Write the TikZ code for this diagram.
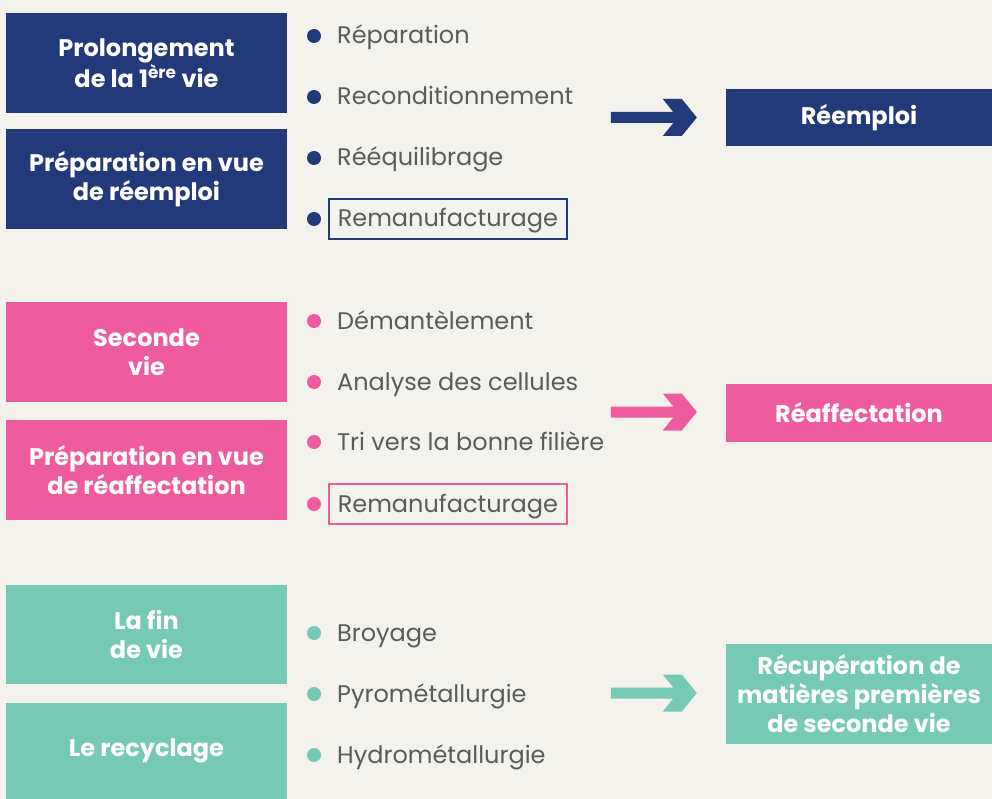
\documentclass[tikz,border=0pt]{standalone}
\usepackage{fontspec}
\setmainfont{Poppins}
\usetikzlibrary{calc}
\definecolor{navy}{HTML}{22397A}
\definecolor{rose}{HTML}{EE5C9F}
\definecolor{mint}{HTML}{76C9B5}
\definecolor{fond}{HTML}{F3F2EC}
\definecolor{texte}{HTML}{585C5C}
% fat arrow ending at a coordinate
\newcommand{\fatarrow}[2]{%
  \fill[#1] ($(#2)+(-86,-5.5)$) -- ($(#2)+(-23.5,-5.5)$) -- ($(#2)+(-34,-18.5)$)
    -- ($(#2)+(-15,-18.5)$) -- (#2) -- ($(#2)+(-15,18.5)$) -- ($(#2)+(-34,18.5)$)
    -- ($(#2)+(-23.5,5.5)$) -- ($(#2)+(-86,5.5)$) -- cycle;}

\begin{document}
\begin{tikzpicture}[x=1pt, y=-1pt,
            stage/.style={minimum width=281pt, inner sep=0pt, text=white, align=center, font=\fontsize{24}{29}\selectfont\bfseries},
            result/.style={minimum width=266pt, inner sep=0pt, text=white, align=center, font=\fontsize{24}{29}\selectfont\bfseries},
            item/.style={anchor=west, inner xsep=9pt, inner ysep=6pt, text height=22pt, text depth=6pt, text=texte, font=\fontsize{24}{28}\selectfont},
            dot/.style={circle, inner sep=0pt, minimum size=14pt},
            marked/.style={draw=#1, line width=1.6pt}
        ]
            % background
            \fill[fond] (0, 0) rectangle (992, 799);
            \useasboundingbox (0, 0) rectangle (992, 799);
            % stages
            \node[stage, fill=navy, minimum height=100pt] (prolong) at (146.5, 63) {Prolongement\\de la 1\textsuperscript{ère} vie};
            \node[stage, fill=navy, minimum height=100pt] (prepreemploi) at (146.5, 179) {Préparation en vue\\de réemploi};
            \node[stage, fill=rose, minimum height=100pt] (seconde) at (146.5, 352) {Seconde\\vie};
            \node[stage, fill=rose, minimum height=100pt] (prepreaff) at (146.5, 470) {Préparation en vue\\de réaffectation};
            \node[stage, fill=mint, minimum height=99pt] (finvie) at (146.5, 634.5) {La fin\\de vie};
            \node[stage, fill=mint, minimum height=96pt] (recyclage) at (146.5, 751) {Le recyclage};
            % reemploi list
            \node[dot, fill=navy] (n1) at (314, 36) {};
            \node[item] (reparation) at (328, 36) {Réparation};
            \node[dot, fill=navy] (n2) at (314, 97) {};
            \node[item] (recond) at (328, 97) {Reconditionnement};
            \node[dot, fill=navy] (n3) at (314, 158) {};
            \node[item] (reequil) at (328, 158) {Rééquilibrage};
            \node[dot, fill=navy] (n4) at (314, 219) {};
            \node[item, marked=navy] (reman1) at (328, 219) {Remanufacturage};
            % reaffectation list
            \node[dot, fill=rose] (p1) at (314, 321) {};
            \node[item] (demant) at (328, 321) {Démantèlement};
            \node[dot, fill=rose] (p2) at (314, 382) {};
            \node[item] (analyse) at (328, 382) {Analyse des cellules};
            \node[dot, fill=rose] (p3) at (314, 442) {};
            \node[item] (tri) at (328, 442) {Tri vers la bonne filière};
            \node[dot, fill=rose] (p4) at (314, 504) {};
            \node[item, marked=rose] (reman2) at (328, 504) {Remanufacturage};
            % recyclage list
            \node[dot, fill=mint] (m1) at (314, 633) {};
            \node[item] (broyage) at (328, 633) {Broyage};
            \node[dot, fill=mint] (m2) at (314, 694) {};
            \node[item] (pyro) at (328, 694) {Pyrométallurgie};
            \node[dot, fill=mint] (m3) at (314, 755) {};
            \node[item] (hydro) at (328, 755) {Hydrométallurgie};
            % results
            \node[result, fill=navy, minimum height=57pt] (reemploi) at (859, 117.5) {Réemploi};
            \node[result, fill=rose, minimum height=58pt] (reaff) at (859, 413) {Réaffectation};
            \node[result, fill=mint, minimum height=100pt] (recup) at (859, 694) {Récupération de\\matières premières\\de seconde vie};
            % arrows
            \coordinate (tipA) at ($(reemploi.west)+(-29, 0)$);
            \coordinate (tipB) at ($(reaff.west)+(-29, -1)$);
            \coordinate (tipC) at ($(recup.west)+(-29, -1)$);
            \fatarrow{navy}{tipA}
            \fatarrow{rose}{tipB}
            \fatarrow{mint}{tipC}
        \end{tikzpicture}
\end{document}
